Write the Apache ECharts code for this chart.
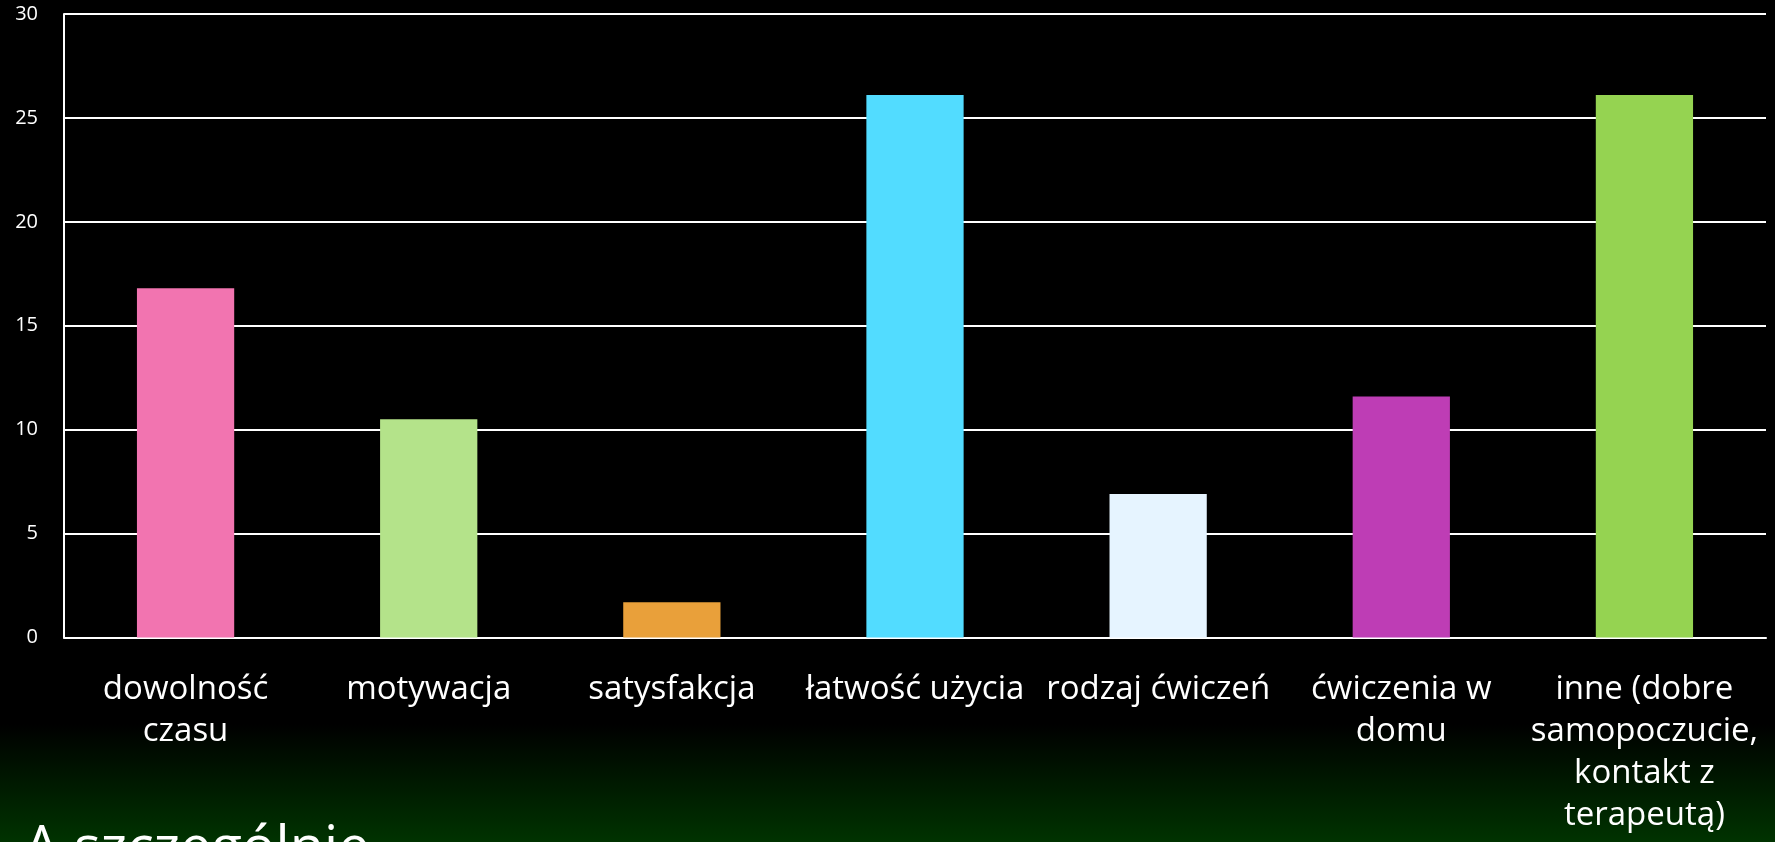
<!DOCTYPE html>
<html>
<head>
<meta charset="utf-8">
<script src="https://cdn.jsdelivr.net/npm/echarts@6/dist/echarts.min.js"></script>
<style>
html,body{margin:0;padding:0;width:1775px;height:842px;overflow:hidden;background:#000;}
#c{width:1775px;height:842px;}
</style>
</head>
<body>
<div id="c"></div>
<script>
var categories = [
  "dowolność\nczasu",
  "motywacja",
  "satysfakcja",
  "łatwość użycia",
  "rodzaj ćwiczeń",
  "ćwiczenia w\ndomu",
  "inne (dobre\nsamopoczucie,\nkontakt z\nterapeutą)"
];
var values = [16.8, 10.5, 1.7, 26.1, 6.9, 11.6, 26.1];
var barColors = ["#F274B0", "#B4E38A", "#E9A03A", "#52DCFF", "#E6F4FF", "#BE3DB5", "#95D351"];
var titleText = "A szczególnie";

var FONT = "'Open Sans', 'DejaVu Sans', sans-serif";
var chart = echarts.init(document.getElementById('c'));
chart.setOption({
  backgroundColor: {
    type: 'linear', x: 0, y: 0, x2: 0, y2: 1,
    colorStops: [
      {offset: 0, color: '#000000'},
      {offset: 0.86, color: '#000000'},
      {offset: 1, color: '#003300'}
    ]
  },
  animation: false,
  grid: {left: 64, top: 14, width: 1702, height: 623.5, containLabel: false},
  graphic: [{
    type: 'text',
    left: 24,
    top: 822,
    style: {text: titleText, fill: '#ffffff', font: "56px " + FONT}
  }],
  xAxis: {
    type: 'category',
    data: categories,
    axisLine: {show: true, lineStyle: {color: '#ffffff', width: 2}},
    axisTick: {show: false},
    axisLabel: {
      color: '#ffffff', fontFamily: FONT, fontSize: 33, lineHeight: 42,
      margin: 31, interval: 0, align: 'center'
    }
  },
  yAxis: {
    type: 'value', min: 0, max: 30, interval: 5,
    axisLine: {show: true, lineStyle: {color: '#ffffff', width: 2}},
    axisTick: {show: false},
    axisLabel: {color: '#ffffff', fontFamily: FONT, fontSize: 20, margin: 26},
    splitLine: {show: true, lineStyle: {color: '#ffffff', width: 2}}
  },
  series: [{
    type: 'bar',
    data: values.map(function (v, i) { return {value: v, itemStyle: {color: barColors[i]}}; }),
    barWidth: '40%'
  }]
});
</script>
</body>
</html>
